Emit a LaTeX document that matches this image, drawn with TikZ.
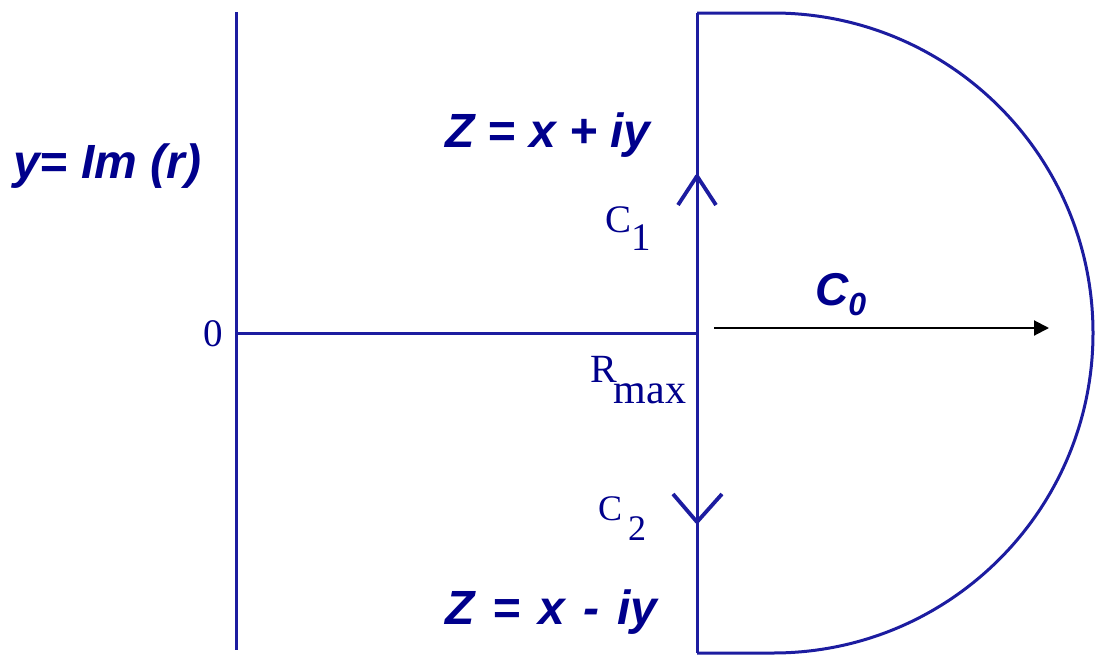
\documentclass[tikz,border=0pt]{standalone}
\usepackage{fontspec}
\setmainfont{Liberation Serif}
\newfontfamily\sansf{Liberation Sans}
\usetikzlibrary{arrows.meta,calc}
\definecolor{txtblue}{RGB}{0,0,140}
\definecolor{lineblue}{RGB}{28,28,160}
\tikzset{
  ax/.style={draw=lineblue, line width=3pt},
  chev/.style={draw=lineblue, line width=3.8pt, line join=round},
  biglab/.style={text=txtblue, font=\sansf\bfseries\itshape\fontsize{48}{52}\selectfont, inner sep=0pt, anchor=base west},
  serlab/.style={text=txtblue, font=\fontsize{39}{42}\selectfont, inner sep=0pt, anchor=base west},
}
\begin{document}
\begin{tikzpicture}[x=1pt,y=-1pt]
\useasboundingbox (0,0) rectangle (1103,656);
% coordinates
\coordinate (Ltop) at (236,12);
\coordinate (Lbot) at (236,650);
\coordinate (O) at (236,333);
\coordinate (Rtop) at (697,13);
\coordinate (Rbot) at (697,653);
\coordinate (Rmid) at (697,333);
\coordinate (Atop) at (773,13);
\coordinate (Abot) at (773,653);
% axes
\draw[ax] (Ltop) -- (Lbot);
\draw[ax] (Rtop) -- (Rbot);
\draw[ax] (O) -- (Rmid);
\draw[ax] (Rtop) -- (Atop) arc[start angle=-90, end angle=90, radius=320] -- (Rbot);
% chevrons
\coordinate (c1tip) at (697,176);
\draw[chev] ($(c1tip)+(-19,29)$) -- (c1tip) -- ($(c1tip)+(19,29)$);
\coordinate (c2tip) at (697,522);
\draw[chev] ($(c2tip)+(-24,-28)$) -- (c2tip) -- ($(c2tip)+(25,-28)$);
% C0 arrow
\coordinate (a0) at (714,328);
\coordinate (a1) at (1049,328);
\draw[line width=2pt, -{Triangle[length=15pt,width=15pt]}] (a0) -- (a1);
% labels
\node[biglab] (yim) at (13,178) {y= Im (r)};
\node[biglab] (zp) at (445,147) {Z = x + iy};
\node[biglab] (zm) at (445,624) {Z\hspace{18pt}=\hspace{18pt}x\hspace{18pt}-\hspace{18pt}iy};
\node[text=txtblue, inner sep=0pt, anchor=base west] (c0) at (815,305) {\sansf\bfseries\itshape\fontsize{46}{50}\selectfont C\raisebox{-10pt}{\fontsize{32}{34}\selectfont 0}};
\node[serlab] (c1) at (605,232) {C\raisebox{-18pt}{1}};
\node[serlab, font=\fontsize{36}{38}\selectfont] (c2) at (598,520) {C\hspace{6pt}\raisebox{-20pt}{2}};
\node[serlab, font=\fontsize{40}{42}\selectfont] (rmax) at (590,382) {R\hspace{-3pt}\raisebox{-21pt}{\fontsize{42}{44}\selectfont max}};
\node[serlab] (zero) at (203,346) {0};
\end{tikzpicture}
\end{document}
